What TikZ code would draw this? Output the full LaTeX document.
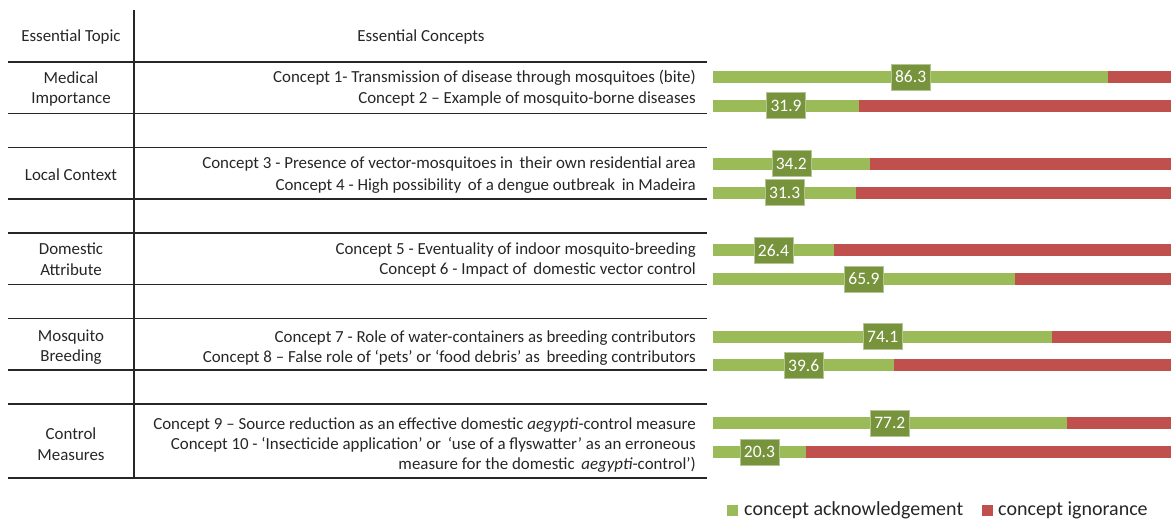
\documentclass[tikz,border=0pt]{standalone}
\usepackage{fontspec}
\setmainfont{Carlito}
\definecolor{ack}{HTML}{9BBB59}
\definecolor{ign}{HTML}{C0504D}
\definecolor{lab}{HTML}{77933C}
\begin{document}
\begin{tikzpicture}[x=1pt,y=-1pt,
  grid/.style={line width=1.6pt,black!85},
  txt/.style={font=\fontsize{16.9}{20.5}\selectfont, inner sep=0pt, text=black!85},
  concept/.style={txt, anchor=east, align=right},
  topic/.style={txt, align=center},
  vallab/.style={fill=lab, draw=lab!55!white, line width=0.6pt, text=white, font=\fontsize{17.5}{18}\selectfont, minimum width=39pt, minimum height=26pt, inner sep=0pt},
  legtxt/.style={font=\fontsize{20}{22}\selectfont, inner sep=0pt, anchor=west, text=black!85}]
\useasboundingbox (0,0) rectangle (1171,520);
% table lines
\draw[grid] (134,10) -- (134,478);
\foreach \yy in {62,113.5,147.5,199,233,284.5,318.5,370,404,478}
  \draw[grid] (8,\yy) -- (707,\yy);
% headers
\node[txt] (hTopic) at (71,37) {Essential Topic};
\node[txt] (hConc) at (421,37) {Essential Concepts};
% topics
\node[topic] (t1) at (71,89) {Medical\\Importance};
\node[topic] (t2) at (71,175) {Local Context};
\node[topic] (t3) at (71,259) {Domestic\\Attribute};
\node[topic] (t4) at (71,347) {Mosquito\\Breeding};
\node[topic] (t5) at (71,444) {Control\\Measures};
% concepts
\node[concept] (c1) at (696,78) {Concept 1- Transmission of disease through mosquitoes (bite)};
\node[concept] (c2) at (696,99) {Concept 2 – Example of mosquito-borne diseases};
\node[concept] (c3) at (696,164) {Concept 3 - Presence of vector-mosquitoes in\, their own residential area};
\node[concept] (c4) at (696,186) {Concept 4 - High possibility\, of a dengue outbreak\, in Madeira};
\node[concept] (c5) at (696,250) {Concept 5 - Eventuality of indoor mosquito-breeding};
\node[concept] (c6) at (696,270) {Concept 6 - Impact of\, domestic vector control};
\node[concept] (c7) at (696,338) {Concept 7 - Role of water-containers as breeding contributors};
\node[concept] (c8) at (696,358) {Concept 8 – False role of ‘pets’ or ‘food debris’ as\, breeding contributors};
\node[concept] (c9) at (696,425) {Concept 9 – Source reduction as an effective domestic \textit{aegypti}-control measure};
\node[concept] (c10) at (696,455) {Concept 10 - ‘Insecticide application’ or\, ‘use of a flyswatter’ as an erroneous\\measure for the domestic\, \textit{aegypti}-control’)};
% bars
\foreach \yy/\v/\n in {77/86.3/1,105.7/31.9/2,163.5/34.2/3,192.5/31.3/4,250.3/26.4/5,278.8/65.9/6,336.7/74.1/7,365.3/39.6/8,422.8/77.2/9,452/20.3/10}{
  \pgfmathsetmacro{\xe}{713+4.58*\v}
  \pgfmathsetmacro{\xm}{713+2.29*\v}
  \fill[ack] (713,\yy-6) rectangle (\xe,\yy+6);
  \fill[ign] (\xe,\yy-6) rectangle (1171,\yy+6);
  \node[vallab] (v\n) at (\xm,\yy) {\v};
}
% legend
\fill[ack] (727,505) rectangle (738,516);
\node[legtxt] (lg1) at (744,510) {concept acknowledgement};
\fill[ign] (982,505) rectangle (993,516);
\node[legtxt] (lg2) at (998,510) {concept ignorance};
\end{tikzpicture}
\end{document}
